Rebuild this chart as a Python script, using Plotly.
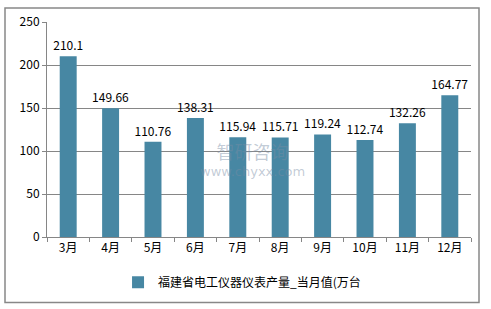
import plotly.graph_objects as go

categories = ["3月", "4月", "5月", "6月", "7月", "8月", "9月", "10月", "11月", "12月"]
values = [210.1, 149.66, 110.76, 138.31, 115.94, 115.71, 119.24, 112.74, 132.26, 164.77]
value_labels = ["210.1", "149.66", "110.76", "138.31", "115.94", "115.71", "119.24", "112.74", "132.26", "164.77"]
series_name = "福建省电工仪器仪表产量_当月值(万台"
y_ticks = [0, 50, 100, 150, 200, 250]

FONT = "Noto Sans CJK SC, Microsoft YaHei, sans-serif"

fig = go.Figure()
fig.add_trace(go.Bar(
    x=categories, y=values, name=series_name,
    marker=dict(color="#4787a3", line=dict(width=0)),
    text=value_labels, textposition="outside", cliponaxis=False,
    constraintext="none",
    textfont=dict(size=12, color="#000000", family=FONT),
    showlegend=True,
))

fig.update_layout(
    width=491, height=309,
    margin=dict(l=47, r=20, t=18, b=72),
    paper_bgcolor="white", plot_bgcolor="white",
    bargap=0.6,
    font=dict(family=FONT, size=12, color="#000000"),
    showlegend=True,
    legend=dict(orientation="h", x=0.46, xanchor="center", y=-0.21, yanchor="middle",
                font=dict(size=12, family=FONT), itemwidth=30,
                bgcolor="rgba(0,0,0,0)"),
    xaxis=dict(showgrid=False, showline=True, linecolor="#868686", linewidth=1,
               ticks="outside", ticklen=4, tickcolor="#868686", tickson="boundaries",
               tickfont=dict(size=12), fixedrange=True),
    yaxis=dict(range=[0, 250], tickvals=y_ticks, showgrid=True, gridcolor="#868686",
               gridwidth=1, showline=True, linecolor="#868686", linewidth=1,
               ticks="outside", ticklen=4, tickcolor="#868686", zeroline=False,
               tickfont=dict(size=12), fixedrange=True),
)

# outer border
fig.add_shape(type="rect", xref="paper", yref="paper",
              x0=(5 - 47) / 424, x1=(479 - 47) / 424,
              y0=(237.3 - 304) / 219, y1=(237.3 - 4) / 219,
              line=dict(color="#888888", width=1.5), fillcolor="rgba(0,0,0,0)", layer="below")

# watermark (single text block)
fig.add_annotation(xref="paper", yref="paper", x=(252 - 47) / 424, y=(237.3 - 157) / 219,
                   text="<span style='font-size:18px'>智研咨询</span><br>"
                        "<span style='font-size:13px;font-family:DejaVu Sans'>www.chyxx.com</span>",
                   showarrow=False, align="center",
                   font=dict(size=13, color="rgba(120,140,165,0.45)", family=FONT))

fig.write_html("out.html")
